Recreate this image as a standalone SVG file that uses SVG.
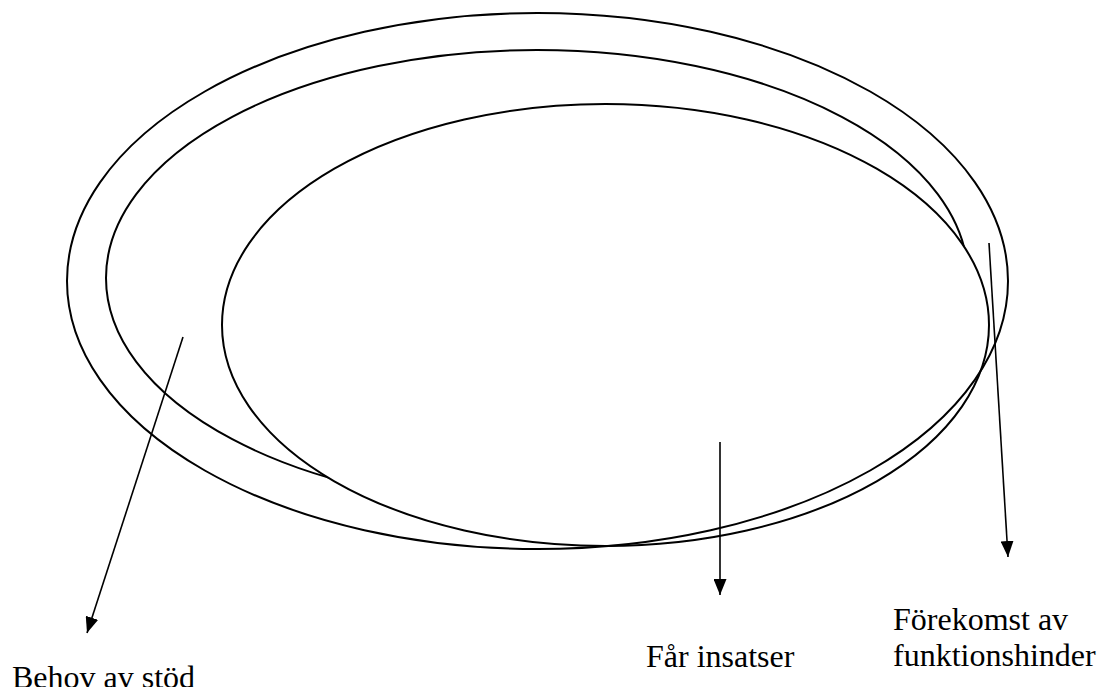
<svg xmlns="http://www.w3.org/2000/svg" width="1097" height="687" viewBox="0 0 1097 687">
<style>
.ell{fill:none;stroke:#000;stroke-width:2}
.inner{fill:#fff;stroke:#000;stroke-width:2}
.conn{stroke:#000;stroke-width:1.6;fill:none;marker-end:url(#ah)}
.lbl{font-family:"Liberation Serif","Times New Roman",serif;font-size:32px;fill:#000}
</style>
<defs>
<marker id="ah" markerUnits="userSpaceOnUse" markerWidth="17" markerHeight="13" refX="16" refY="6.5" orient="auto">
<path d="M0,0 L16,6.5 L0,13 z" fill="#000"/>
</marker>
</defs>
<rect width="1097" height="687" fill="#fff"/>
<g id="middle"><ellipse class="ell" cx="537" cy="278" rx="431" ry="228"/></g>
<g id="inner"><ellipse class="inner" cx="605.5" cy="325" rx="383.5" ry="221"/></g>
<g id="outer"><ellipse class="ell" cx="537.5" cy="281" rx="470.5" ry="268"/></g>
<g id="connectors">
<line class="conn" x1="183" y1="337" x2="87" y2="633"/>
<line class="conn" x1="720" y1="442" x2="720" y2="595"/>
<line class="conn" x1="989" y1="243" x2="1008" y2="557"/>
</g>
<g id="label-behov"><text class="lbl" x="12" y="688">Behov av stöd</text></g>
<g id="label-far"><text class="lbl" x="646" y="667">Får insatser</text></g>
<g id="label-forekomst"><text class="lbl" x="893" y="630">Förekomst av</text><text class="lbl" x="893" y="666">funktionshinder</text></g>
</svg>
